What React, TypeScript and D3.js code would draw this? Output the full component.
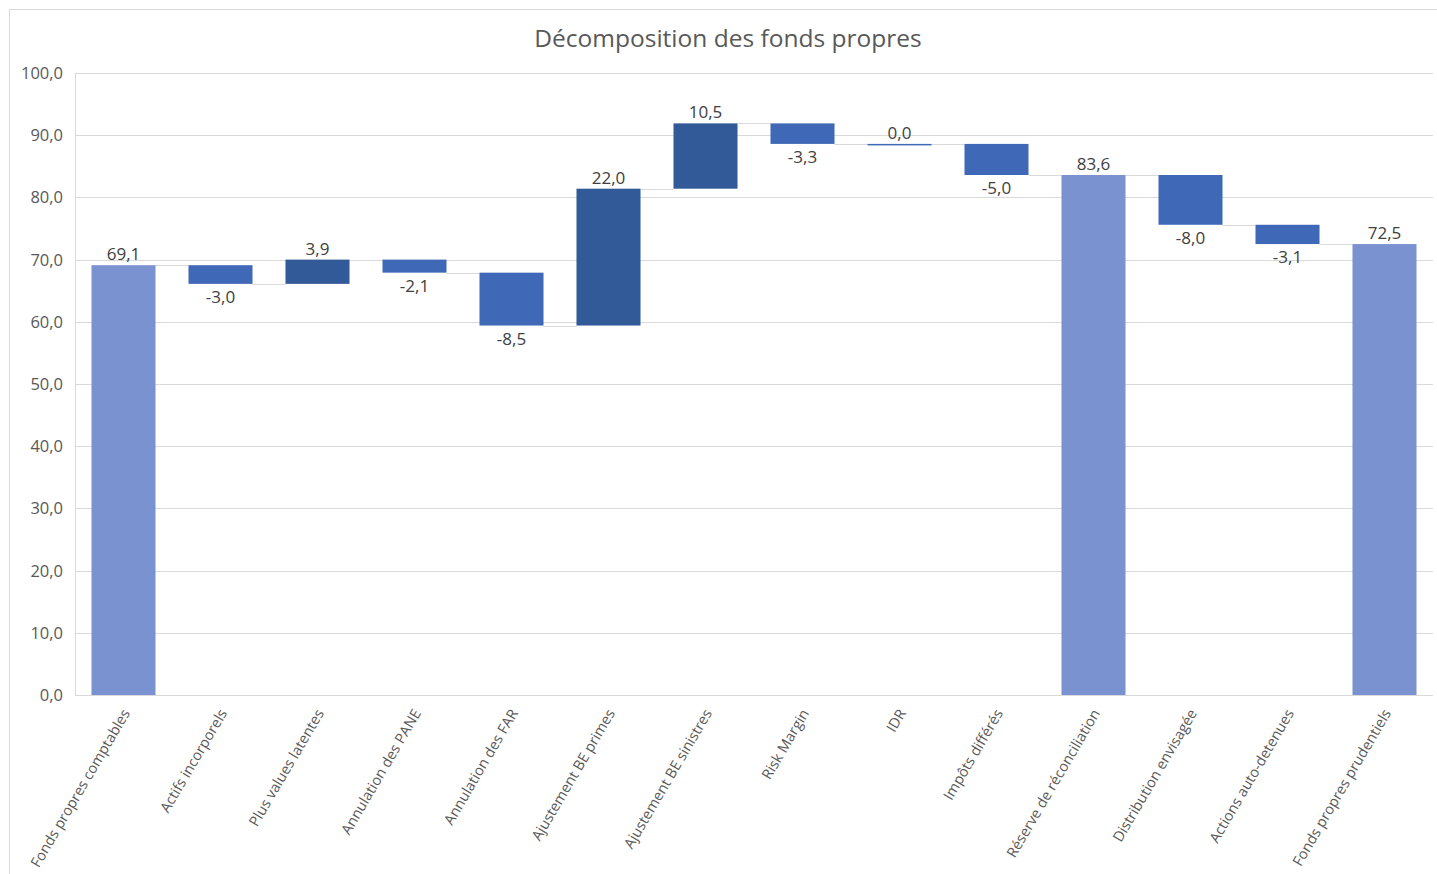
import React from "react";
import * as d3 from "d3";

const categories = [
  "Fonds propres comptables",
  "Actifs incorporels",
  "Plus values latentes",
  "Annulation des PANE",
  "Annulation des FAR",
  "Ajustement BE primes",
  "Ajustement BE sinistres",
  "Risk Margin",
  "IDR",
  "Impôts différés",
  "Réserve de réconciliation",
  "Distribution envisagée",
  "Actions auto-detenues",
  "Fonds propres prudentiels",
];
const values = [69.1, -3.0, 3.9, -2.1, -8.5, 22.0, 10.5, -3.3, 0.0, -5.0, 83.6, -8.0, -3.1, 72.5];
const totalFlags = [true, false, false, false, false, false, false, false, false, false, true, false, false, true];
const yTicks = [0, 10, 20, 30, 40, 50, 60, 70, 80, 90, 100];

const COLORS = { total: "#7A92CF", up: "#325A99", down: "#3F69B7" };
const FONT = "'Open Sans', 'Noto Sans', sans-serif";
const TXT = "#595959";

const fmt = (v: number) => d3.format(".1f")(v).replace(".", ",").replace("−", "-");

export default function App() {
  const W = 1437, H = 874;
  const left = 75, right = 1433, top = 73, bottom = 695;

  const x = d3.scaleBand<string>().domain(categories).range([left, right]).paddingInner(0.34).paddingOuter(0.17);
  const y = d3.scaleLinear().domain([0, 100]).range([bottom, top]);

  let running = 0;
  const bars = categories.map((c, i) => {
    const v = values[i];
    let start: number, end: number;
    if (totalFlags[i]) {
      start = 0;
      end = v;
    } else {
      start = running;
      end = running + v;
    }
    running = end;
    const kind = totalFlags[i] ? "total" : v > 0 ? "up" : "down";
    return { c, v, start, end, kind };
  });

  const bw = x.bandwidth();

  return (
    <svg width={W} height={H} style={{ display: "block", position: "absolute", left: 0, top: 0 }} fontFamily={FONT}>
      <rect x={0} y={0} width={W} height={H} fill="#fff" />
      <rect x={9.5} y={9.5} width={1440} height={880} fill="none" stroke="#d9d9d9" strokeWidth={1} />
      <text x={728} y={47} textAnchor="middle" fontSize={24.5} fill={TXT}>
        Décomposition des fonds propres
      </text>

      {yTicks.map((t) => (
        <g key={t}>
          <line x1={left} x2={right} y1={Math.round(y(t)) + 0.5} y2={Math.round(y(t)) + 0.5} stroke="#d9d9d9" strokeWidth={1} />
          <text x={63} y={y(t) + 6} textAnchor="end" fontSize={16.5} fill={TXT}>
            {fmt(t)}
          </text>
        </g>
      ))}
      <line x1={left + 0.5} x2={left + 0.5} y1={top} y2={bottom} stroke="#d9d9d9" strokeWidth={1} />

      {bars.slice(0, -1).map((b, i) => {
        const nx = x(categories[i + 1])!;
        const yy = Math.round(y(b.end)) + 0.5;
        return <line key={"c" + i} x1={x(b.c)! + bw} x2={nx} y1={yy} y2={yy} stroke="#d9d9d9" strokeWidth={1} />;
      })}

      {bars.map((b) => {
        const y0 = y(Math.max(b.start, b.end));
        const y1 = y(Math.min(b.start, b.end));
        const h = Math.max(y1 - y0, 1.5);
        const xx = x(b.c)!;
        const labelAbove = b.kind !== "down" || b.v === 0;
        const ly = labelAbove ? y0 - 5 : y0 + h + 19;
        return (
          <g key={b.c}>
            <rect x={xx} y={y0} width={bw} height={h} fill={COLORS[b.kind as keyof typeof COLORS]} />
            <text x={xx + bw / 2} y={ly} textAnchor="middle" fontSize={17} fill="#404040">
              {fmt(b.v)}
            </text>
          </g>
        );
      })}

      {categories.map((c) => {
        const cx = x(c)! + bw / 2;
        return (
          <text key={"l" + c} transform={`translate(${cx + 7},${713}) rotate(-59.5)`} textAnchor="end" fontSize={14.5} fill={TXT}>
            {c}
          </text>
        );
      })}
    </svg>
  );
}
